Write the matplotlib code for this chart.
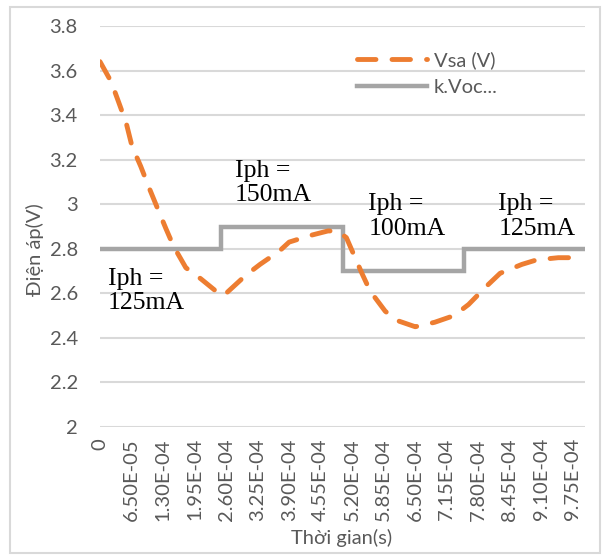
import numpy as np
import matplotlib

matplotlib.use("Agg")
import matplotlib.pyplot as plt
from matplotlib.patches import Rectangle

# Vsa (V), time in seconds
vsa_t = [0.0, 2.3e-5, 3.9e-5, 5.4e-5, 6.6e-5, 8.4e-5, 1.01e-4, 1.17e-4, 1.36e-4,
         1.52e-4, 1.77e-4, 2.08e-4, 2.39e-4, 2.55e-4, 2.70e-4, 3.0e-4, 3.3e-4,
         3.7e-4, 3.9e-4, 4.34e-4, 4.7e-4, 4.9e-4, 5.08e-4, 5.2e-4, 5.4e-4,
         5.57e-4, 5.88e-4, 6.1e-4, 6.5e-4, 6.9e-4, 7.3e-4, 7.6e-4, 7.96e-4,
         8.25e-4, 8.7e-4, 9.0e-4, 9.45e-4, 9.9e-4]
vsa_v = [3.64, 3.55, 3.455, 3.365, 3.26, 3.17, 3.075, 2.99, 2.89,
         2.81, 2.715, 2.665, 2.61, 2.59, 2.62, 2.68, 2.73,
         2.79, 2.83, 2.86, 2.88, 2.88, 2.85, 2.79, 2.69,
         2.61, 2.52, 2.48, 2.45, 2.47, 2.50, 2.55, 2.63,
         2.69, 2.73, 2.75, 2.76, 2.76]

# k.Voc reference, piecewise constant
kvoc_edges = [0.0, 2.5e-4, 5.0e-4, 7.5e-4, 1.0e-3]
kvoc_levels = [2.8, 2.9, 2.7, 2.8]

# Iph annotations: (text, x in s, top y in V)
notes = [("Iph =\n125mA", 1.6e-5, 2.715),
         ("Iph =\n150mA", 2.78e-4, 3.20),
         ("Iph =\n100mA", 5.53e-4, 3.05),
         ("Iph =\n125mA", 8.21e-4, 3.05)]

x_ticks = np.arange(16) * 6.5e-5
y_ticks = [2.0, 2.2, 2.4, 2.6, 2.8, 3.0, 3.2, 3.4, 3.6, 3.8]

ORANGE = "#ED7D31"
GRAY = "#A5A5A5"
TEXT = "#595959"
FONTS = ["Lato", "Noto Sans", "DejaVu Sans"]

plt.rcParams["font.family"] = FONTS

fig = plt.figure(figsize=(6.02, 5.55), dpi=100)
fig.patches.append(Rectangle((10 / 602, 1 - 553 / 555), 590 / 602, 546 / 555,
                             transform=fig.transFigure, fill=False,
                             edgecolor="#D9D9D9", linewidth=1.5))
ax = fig.add_axes([100 / 602, 1 - 427 / 555, 485 / 602, 401 / 555])

ax.plot(vsa_t, vsa_v, color=ORANGE, linewidth=3.5, linestyle=(0, (3.8, 3.3)),
        dash_capstyle="round", solid_capstyle="round", label="Vsa (V)", zorder=3)
ax.stairs(kvoc_levels, kvoc_edges, color=GRAY, linewidth=3.2, baseline=None,
          label="k.Voc...", zorder=2)

ax.set_xlim(0, 1.0e-3)
ax.set_ylim(2.0, 3.8)
ax.set_xticks(x_ticks)
ax.set_xticklabels(["0"] + [f"{t:.2E}" for t in x_ticks[1:]], rotation=90)
ax.set_yticks(y_ticks)
ax.set_yticklabels([f"{v:g}" for v in y_ticks])
ax.tick_params(length=0, labelsize=14.5, labelcolor=TEXT)
ax.tick_params(axis="y", pad=16)
ax.tick_params(axis="x", pad=8)
ax.grid(axis="y", color="#D9D9D9", linewidth=1.5)
ax.set_axisbelow(True)
for s in ax.spines.values():
    s.set_visible(False)

for txt, x, y in notes:
    ax.text(x, y, txt, family="Liberation Serif", fontsize=18.5, va="top",
            ha="left", linespacing=1.15, color="black")

fig.text(35 / 602, 1 - 250 / 555, "Điện áp(V)", rotation=90, ha="center",
         va="center", fontsize=14.5, color=TEXT)
fig.text(342 / 602, 1 - 538 / 555, "Thời gian(s)", ha="center", va="center",
         fontsize=14.5, color=TEXT)

leg = ax.legend(loc="upper left", bbox_to_anchor=(357 / 602, 1 - 51 / 555),
                bbox_transform=fig.transFigure, frameon=False, fontsize=14.5,
                handlelength=3.5, handletextpad=0.3, labelspacing=0.5,
                borderpad=0, borderaxespad=0)
for t in leg.get_texts():
    t.set_color(TEXT)

fig.savefig("out.png", dpi=100)
